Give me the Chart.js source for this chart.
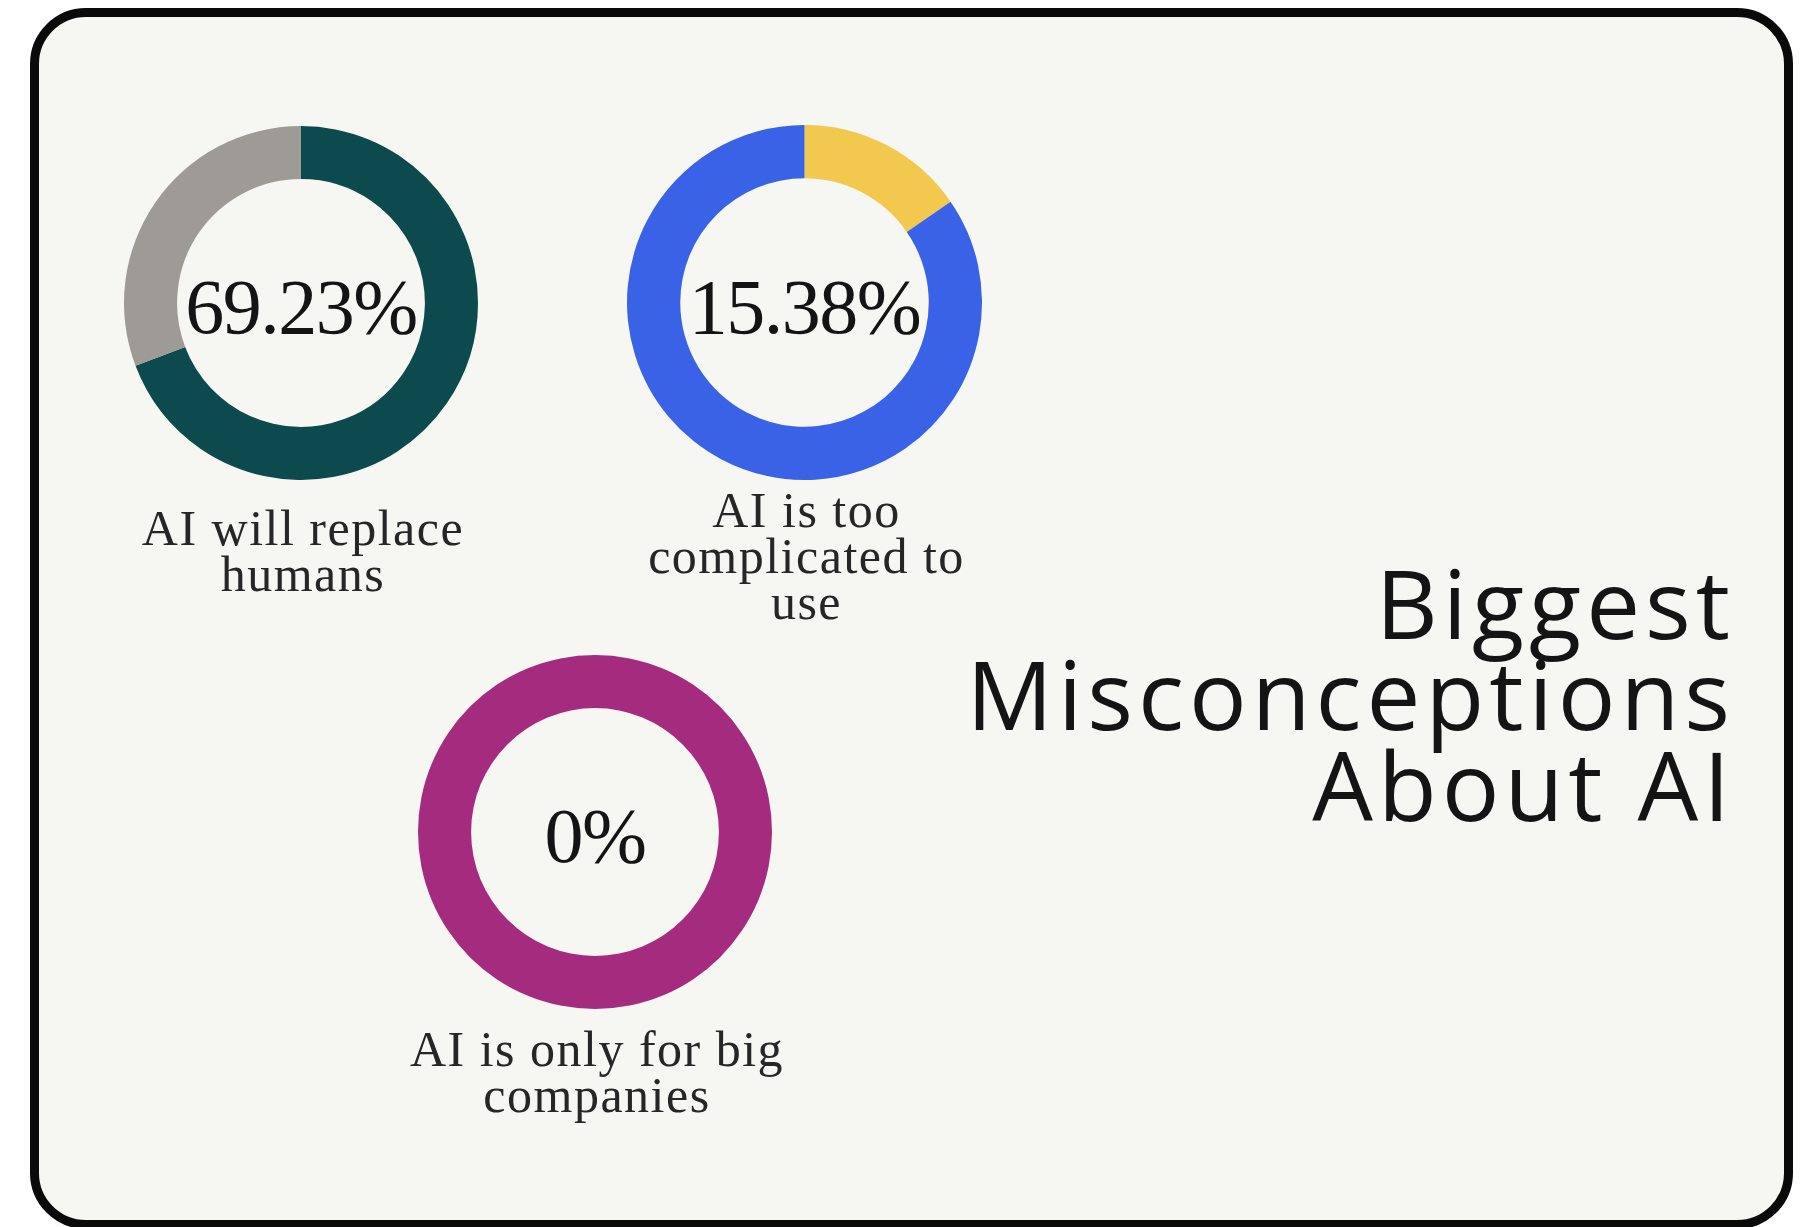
<!DOCTYPE html>
<html>
<head>
<meta charset="utf-8">
<title>Biggest Misconceptions About AI</title>
<script src="https://cdn.jsdelivr.net/npm/chart.js@4/dist/chart.umd.min.js"></script>
<style>
  html, body { margin: 0; padding: 0; }
  body { width: 1802px; height: 1227px; overflow: hidden; background: #ffffff; position: relative; }
  .frame {
    position: absolute; left: 30px; top: 8px; width: 1763px; height: 1221px;
    box-sizing: border-box; border: 9px solid #0a0a0a; border-radius: 56px;
    background: #f6f6f3;
  }
  .donut { position: absolute; }
  .pct {
    position: absolute; transform: translate(-50%, -50%);
    font-family: "Liberation Serif", serif; font-size: 78px; line-height: 1;
    color: #141414; white-space: nowrap; letter-spacing: -1.5px;
  }
  .caption {
    position: absolute; transform: translateX(-50%);
    font-family: "Liberation Serif", serif; font-size: 50px; line-height: 46px;
    color: #262626; text-align: center; white-space: nowrap; letter-spacing: 1.5px;
  }
  .title {
    position: absolute; right: 67px; top: 556px;
    font-family: "Open Sans", "Noto Sans", sans-serif; font-size: 96px; line-height: 91px;
    color: #141414; text-align: right; white-space: nowrap; letter-spacing: 5px;
  }
</style>
</head>
<body>
<div class="frame"></div>
<div id="stage"></div>
<div class="title">Biggest<br>Misconceptions<br>About AI</div>

<script>
// Survey answers: share of respondents holding each belief (%)
const categories = ['AI will replace humans', 'AI is too complicated to use', 'AI is only for big companies'];
const shares = [69.23, 15.38, 0];
const remainders = [30.77, 84.62, 100];

// Caption lines under each ring
const captionLines = [
  ['AI will replace', 'humans'],
  ['AI is too', 'complicated to', 'use'],
  ['AI is only for big', 'companies']
];

// Ring colours: [belief share, remainder]
const shareColors = ['#0d4a4d', '#f2c84e', '#a52b7e'];
const restColors = ['#9e9b96', '#3a62e6', '#a52b7e'];

// Placement of each ring on the page
const layout = [
  { cx: 301, cy: 303, size: 354, captionTop: 505 },
  { cx: 804.5, cy: 302.5, size: 355, captionTop: 487 },
  { cx: 595, cy: 831.5, size: 354, captionTop: 1026 }
];

const stage = document.getElementById('stage');

categories.forEach((name, i) => {
  const L = layout[i];
  const canvas = document.createElement('canvas');
  canvas.className = 'donut';
  canvas.width = L.size;
  canvas.height = L.size;
  canvas.style.width = L.size + 'px';
  canvas.style.height = L.size + 'px';
  canvas.style.left = (L.cx - L.size / 2) + 'px';
  canvas.style.top = (L.cy - L.size / 2) + 'px';
  stage.appendChild(canvas);

  new Chart(canvas, {
    type: 'doughnut',
    data: {
      labels: [name, 'Other'],
      datasets: [{
        data: [shares[i], remainders[i]],
        backgroundColor: [shareColors[i], restColors[i]],
        borderWidth: 0,
        hoverOffset: 0
      }]
    },
    options: {
      responsive: false,
      animation: false,
      cutout: '70%',
      layout: { padding: 0 },
      events: [],
      plugins: { legend: { display: false }, tooltip: { enabled: false } }
    }
  });

  const pct = document.createElement('div');
  pct.className = 'pct';
  pct.textContent = shares[i] + '%';
  pct.style.left = L.cx + 'px';
  pct.style.top = (L.cy + 4) + 'px';
  stage.appendChild(pct);

  const cap = document.createElement('div');
  cap.className = 'caption';
  cap.innerHTML = captionLines[i].join('<br>');
  cap.style.left = (L.cx + 2) + 'px';
  cap.style.top = L.captionTop + 'px';
  stage.appendChild(cap);
});
</script>
</body>
</html>
